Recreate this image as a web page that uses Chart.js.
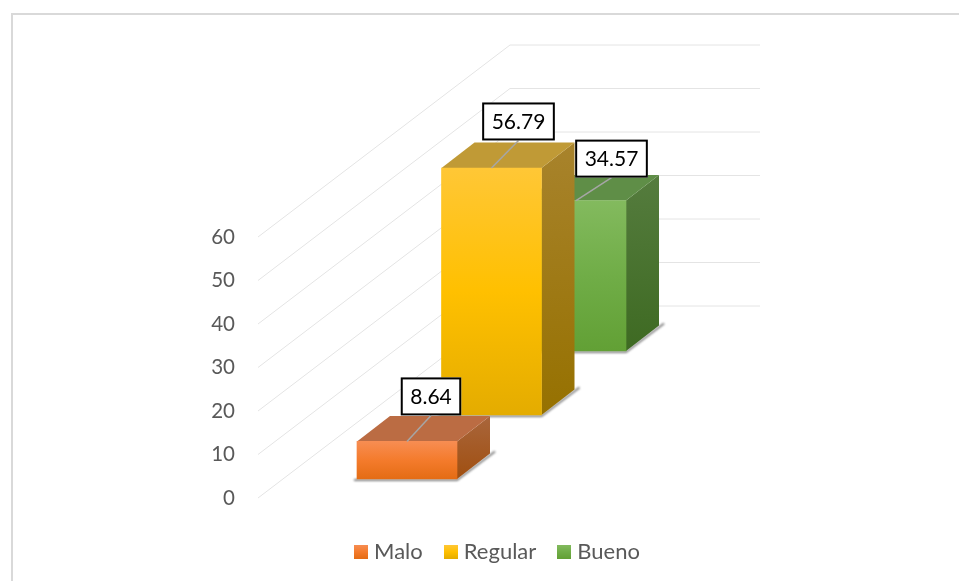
<!DOCTYPE html>
<html>
<head>
<meta charset="utf-8">
<style>
  html, body { margin: 0; padding: 0; background: #fff; overflow: hidden; }
  #marco { position: absolute; left: 11px; top: 13px; right: 0; bottom: 0; border-top: 2px solid #d9d9d9; border-left: 2px solid #d9d9d9; }
  #grafico { position: absolute; left: 0; top: 0; }
</style>
</head>
<body>
<div id="marco"></div>
<canvas id="grafico" width="959" height="581"></canvas>
<script src="https://cdn.jsdelivr.net/npm/chart.js@4"></script>
<script>
const categorias = ['Malo', 'Regular', 'Bueno'];
const valores = [8.64, 56.79, 34.57];
const ticksY = [0, 10, 20, 30, 40, 50, 60];

// colores de cada cara de la barra
const frente = [
    ['#f78d52', '#f47b2c', '#e46c14'],
    ['#ffc736', '#ffc000', '#e4ac00'],
    ['#83ba5e', '#70ad47', '#62a035']
];
const lateral = [['#a9663c', '#a04f10'], ['#a8832c', '#967100'], ['#557c3e', '#3e6a22']];
const tapa = ['#bb6c43', '#c09a36', '#5f8e47'];

// vista 3D: profundidad de la barra y desplazamiento de cada serie
const PROF_X = 33, PROF_Y = 25.5;
const INICIO_X = 24, INICIO_Y = 19;
const PASO_X = 84.5, PASO_Y = 64;
const PARED_X = 252, PARED_Y = 192, PARED_ANCHO = 250;
const etiquetaDx = [24, 27, 35.5];
const etiquetaDy = [-45, -46.5, -42];
const FUENTE = 'Lato, "Open Sans", sans-serif';

function degradado(ctx, y0, y1, colores) {
    const g = ctx.createLinearGradient(0, y0, 0, y1);
    colores.forEach((c, i) => g.addColorStop(i / (colores.length - 1), c));
    return g;
}

function cuadroLeyenda(colores) {
    const c = document.createElement('canvas');
    c.width = 14;
    c.height = 14;
    const x = c.getContext('2d');
    x.fillStyle = degradado(x, 0, 14, colores);
    x.fillRect(0, 0, 14, 14);
    return c;
}

function desplazar(i) {
    return { x: INICIO_X + PASO_X * i, y: INICIO_Y + PASO_Y * i };
}

const vista3D = {
    id: 'vista3D',
    // lineas de la pared lateral y del fondo
    beforeDatasetsDraw(chart) {
        const { ctx, scales: { y }, chartArea } = chart;
        ctx.save();
        ctx.strokeStyle = '#e4e4e4';
        ctx.lineWidth = 1;
        ticksY.forEach(t => {
            const py = y.getPixelForValue(t);
            ctx.beginPath();
            ctx.moveTo(chartArea.left, py);
            ctx.lineTo(chartArea.left + PARED_X, py - PARED_Y);
            ctx.lineTo(chartArea.left + PARED_X + PARED_ANCHO, py - PARED_Y);
            ctx.stroke();
        });
        ctx.restore();
    },
    beforeDatasetDraw(chart, args) {
        const { ctx } = chart;
        const i = args.index;
        const d = desplazar(i);
        const b = args.meta.data[0];
        const izq = b.x - b.width / 2, der = b.x + b.width / 2;
        ctx.save();
        ctx.translate(d.x, -d.y);

        // sombra bajo el borde
        ctx.save();
        ctx.filter = 'blur(1px)';
        ctx.strokeStyle = 'rgba(40,40,40,0.6)';
        ctx.lineWidth = 2;
        ctx.beginPath();
        ctx.moveTo(izq - 3, b.base + 1);
        ctx.lineTo(der, b.base + 1);
        ctx.lineTo(der + PROF_X + 5, b.base - PROF_Y - 2);
        ctx.stroke();
        ctx.restore();

        // cara lateral
        ctx.fillStyle = degradado(ctx, b.y - PROF_Y, b.base, lateral[i]);
        ctx.beginPath();
        ctx.moveTo(der, b.y);
        ctx.lineTo(der + PROF_X, b.y - PROF_Y);
        ctx.lineTo(der + PROF_X, b.base - PROF_Y);
        ctx.lineTo(der, b.base);
        ctx.closePath();
        ctx.fill();

        // tapa
        ctx.fillStyle = tapa[i];
        ctx.beginPath();
        ctx.moveTo(izq, b.y);
        ctx.lineTo(izq + PROF_X, b.y - PROF_Y);
        ctx.lineTo(der + PROF_X, b.y - PROF_Y);
        ctx.lineTo(der, b.y);
        ctx.closePath();
        ctx.fill();
    },
    afterDatasetDraw(chart) {
        chart.ctx.restore();
    },
    // etiquetas de valor
    afterDatasetsDraw(chart) {
        const { ctx } = chart;
        ctx.save();
        ctx.font = '21px ' + FUENTE;
        ctx.textAlign = 'center';
        ctx.textBaseline = 'middle';
        valores.forEach((v, i) => {
            const b = chart.getDatasetMeta(i).data[0];
            const d = desplazar(i);
            const ax = b.x + d.x, ay = b.y - d.y;
            const cx = ax + etiquetaDx[i], cy = ay + etiquetaDy[i];
            const texto = String(v);
            const w = ctx.measureText(texto).width + 19, h = 38;
            ctx.strokeStyle = '#a6a6a6';
            ctx.lineWidth = 1.5;
            ctx.beginPath();
            ctx.moveTo(ax, ay);
            ctx.lineTo(cx, cy + h / 2);
            ctx.stroke();
            ctx.lineWidth = 2;
            ctx.fillStyle = '#fff';
            ctx.fillRect(cx - w / 2, cy - h / 2, w, h);
            ctx.strokeStyle = '#000';
            ctx.strokeRect(cx - w / 2 + 1, cy - h / 2 + 1, w - 2, h - 2);
            ctx.fillStyle = '#000';
            ctx.fillText(texto, cx, cy + 1);
        });
        ctx.restore();
    }
};

new Chart(document.getElementById('grafico'), {
    type: 'bar',
    data: {
        labels: [''],
        datasets: categorias.map((nombre, i) => ({
            label: nombre,
            data: [valores[i]],
            order: i,
            grouped: false,
            barThickness: 100,
            clip: false,
            backgroundColor: c => {
                const y = c.chart.scales.y;
                return degradado(c.chart.ctx, y.getPixelForValue(valores[i]), y.getPixelForValue(0), frente[i]);
            }
        }))
    },
    plugins: [vista3D],
    options: {
        responsive: false,
        animation: false,
        events: [],
        layout: { padding: { left: 40, top: 237, right: 0, bottom: 8 } },
        scales: {
            x: {
                grid: { display: false },
                border: { display: false },
                ticks: { display: false },
                afterFit: s => { s.height = 17; }
            },
            y: {
                min: 0,
                max: 60,
                grid: { display: false },
                border: { display: false },
                ticks: {
                    stepSize: 10,
                    padding: 15,
                    color: '#595959',
                    font: { family: FUENTE, size: 20.5 }
                },
                afterFit: s => { s.width = 218; }
            },
            // reserva el espacio del fondo a la derecha
            margen: {
                position: 'right',
                min: 0,
                max: 60,
                grid: { display: false },
                border: { display: false },
                ticks: { display: false },
                afterFit: s => { s.width = 451; }
            }
        },
        plugins: {
            tooltip: { enabled: false },
            legend: {
                position: 'bottom',
                labels: {
                    usePointStyle: true,
                    pointStyleWidth: 4,
                    padding: 26,
                    color: '#595959',
                    font: { family: FUENTE, size: 22 },
                    generateLabels: () => categorias.map((nombre, i) => ({
                        text: nombre,
                        datasetIndex: i,
                        fontColor: '#595959',
                        pointStyle: cuadroLeyenda(frente[i]),
                        lineWidth: 0
                    }))
                }
            }
        }
    }
});
</script>
</body>
</html>
